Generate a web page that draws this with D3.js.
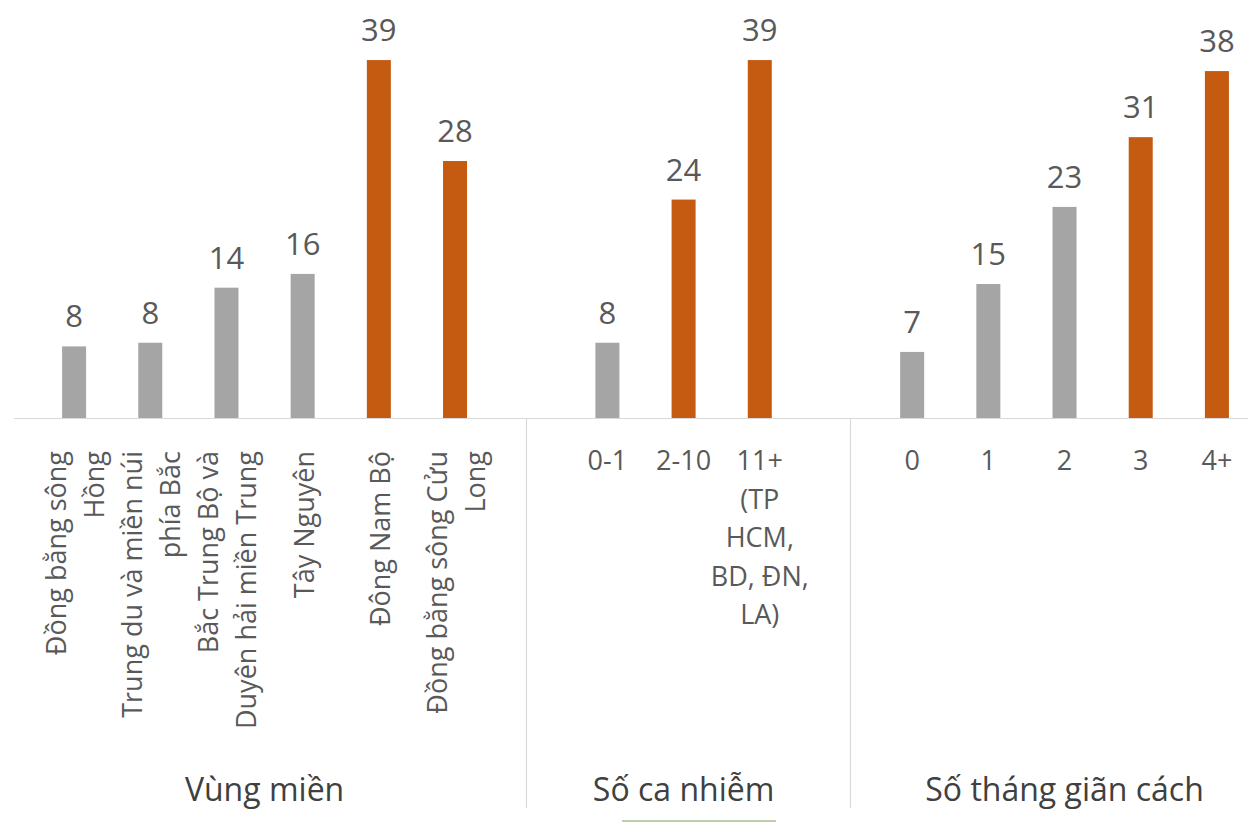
<!DOCTYPE html>
<html>
<head>
<meta charset="utf-8">
<script src="https://cdn.jsdelivr.net/npm/d3@7"></script>
<style>
  html, body { margin: 0; padding: 0; background: #fff; }
  svg { display: block; font-family: "Open Sans", "Noto Sans", sans-serif; }
</style>
</head>
<body>
<svg id="chart" width="1248" height="822"></svg>
<script>
// ---- data ----
const groupNames = ["Vùng miền", "Số ca nhiễm", "Số tháng giãn cách"];

const regionLabels = ["Đồng bằng sông\nHồng", "Trung du và miền núi\nphía Bắc", "Bắc Trung Bộ và\nDuyên hải miền Trung", "Tây Nguyên", "Đông Nam Bộ", "Đồng bằng sông Cửu\nLong"];
const regionValues = [7.8, 8.2, 14.2, 15.7, 39.0, 28.0];
const regionHighlight = [false, false, false, false, true, true];

const caseLabels = ["0-1", "2-10", "11+\n(TP\nHCM,\nBD, ĐN,\nLA)"];
const caseValues = [8.2, 23.8, 39.0];
const caseHighlight = [false, true, true];

const monthLabels = ["0", "1", "2", "3", "4+"];
const monthValues = [7.2, 14.6, 23.0, 30.6, 37.8];
const monthHighlight = [false, false, false, true, true];

const colorBase = "#A5A5A5";
const colorHigh = "#C55A11";

// ---- build slots ----
const groups = [
  { name: groupNames[0], labels: regionLabels, values: regionValues, hi: regionHighlight, rotated: true },
  { name: groupNames[1], labels: caseLabels, values: caseValues, hi: caseHighlight, rotated: false },
  { name: groupNames[2], labels: monthLabels, values: monthValues, hi: monthHighlight, rotated: false }
];
const items = [];
const slots = [];
groups.forEach((g, gi) => {
  g.labels.forEach((l, i) => {
    const key = gi + "_" + i;
    slots.push(key);
    items.push({ key, group: gi, label: l, value: g.values[i], hi: g.hi[i], rotated: g.rotated });
  });
  if (gi < groups.length - 1) slots.push("gap" + gi);
});

const svg = d3.select("#chart");
const baseY = 418;

const x = d3.scaleBand().domain(slots).range([36, 1255]).paddingInner(0.685).paddingOuter(0.3425);
const slotX = d3.scaleLinear().domain([0, slots.length]).range([36, 1255]);
const y = d3.scaleLinear().domain([0, 45]).range([baseY, 5]);

// axis line
svg.append("line")
  .attr("x1", 14).attr("x2", 1248)
  .attr("y1", baseY + 0.5).attr("y2", baseY + 0.5)
  .attr("stroke", "#D9D9D9").attr("stroke-width", 1.2);

// group separators
const sepSlots = [6.43, 10.68];
svg.selectAll("line.sep").data(sepSlots).join("line")
  .attr("class", "sep")
  .attr("x1", d => Math.round(slotX(d)) + 0.5).attr("x2", d => Math.round(slotX(d)) + 0.5)
  .attr("y1", baseY).attr("y2", 808)
  .attr("stroke", "#D9D9D9").attr("stroke-width", 1.2);

// bars
svg.selectAll("rect.bar").data(items).join("rect")
  .attr("class", "bar")
  .attr("x", d => x(d.key))
  .attr("width", x.bandwidth())
  .attr("y", d => y(d.value))
  .attr("height", d => y(0) - y(d.value))
  .attr("fill", d => d.hi ? colorHigh : colorBase);

// value labels
svg.selectAll("text.val").data(items).join("text")
  .attr("class", "val")
  .attr("x", d => x(d.key) + x.bandwidth() / 2)
  .attr("y", d => y(d.value) - 19)
  .attr("text-anchor", "middle")
  .attr("font-size", 31)
  .attr("fill", "#595959")
  .text(d => d3.format(".0f")(d.value));

// category labels
const lh = 38;
items.forEach(d => {
  const cx = x(d.key) + x.bandwidth() / 2;
  const lines = d.label.split("\n");
  if (d.rotated) {
    const t = svg.append("text")
      .attr("transform", `translate(${cx},451) rotate(-90)`)
      .attr("text-anchor", "end")
      .attr("font-size", 27)
      .attr("fill", "#595959");
    lines.forEach((ln, i) => {
      t.append("tspan").attr("x", 0)
        .attr("y", 11 + (i - (lines.length - 1) / 2) * lh)
        .text(ln);
    });
  } else {
    const t = svg.append("text")
      .attr("text-anchor", "middle")
      .attr("font-size", 27)
      .attr("fill", "#595959");
    lines.forEach((ln, i) => {
      t.append("tspan").attr("x", cx).attr("y", 470 + i * 38.5).text(ln);
    });
  }
});

// group labels
groups.forEach((g, gi) => {
  const gi_items = items.filter(d => d.group === gi);
  const cx = d3.mean(gi_items, d => x(d.key) + x.bandwidth() / 2);
  svg.append("text")
    .attr("x", cx).attr("y", 801)
    .attr("text-anchor", "middle")
    .attr("font-size", 32)
    .attr("fill", "#404040")
    .text(g.name);
});

// small bottom line (cropped element)
svg.append("line")
  .attr("x1", 622).attr("x2", 776)
  .attr("y1", 821).attr("y2", 821)
  .attr("stroke", "#A9BF92").attr("stroke-width", 1.5);
</script>
</body>
</html>
